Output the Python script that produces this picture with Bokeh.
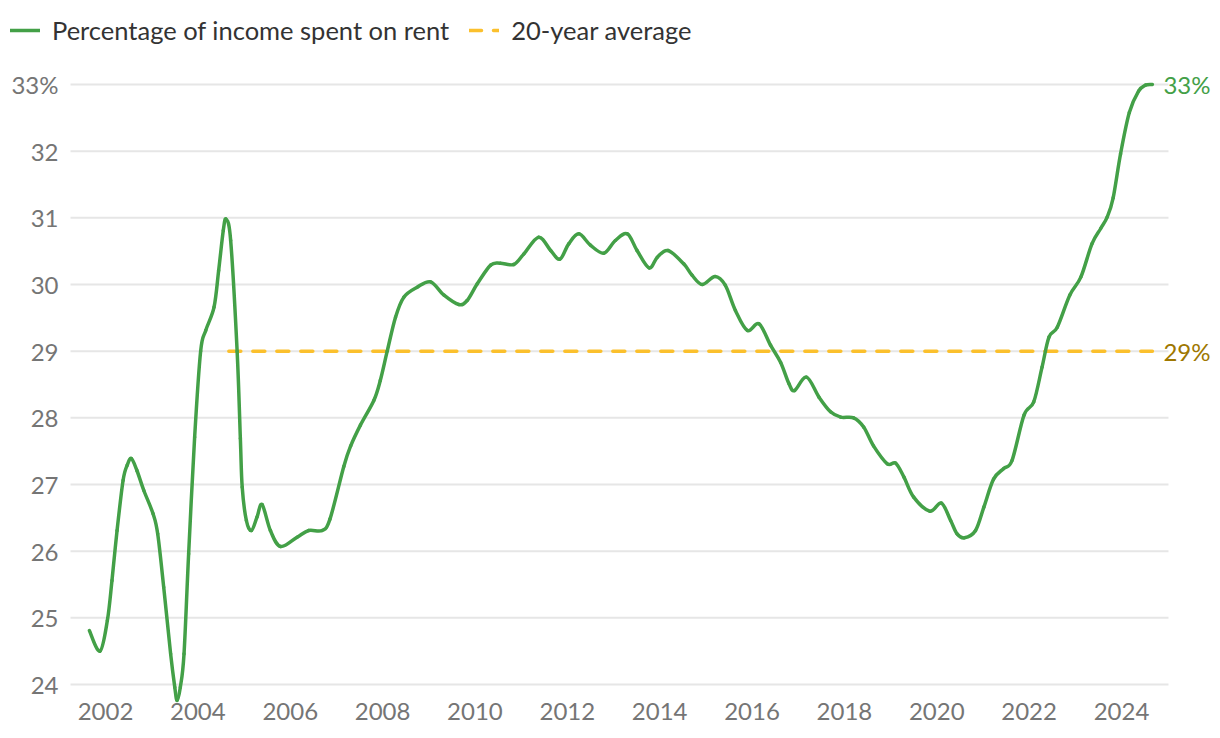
from bokeh.plotting import figure
from bokeh.models import Range1d, FixedTicker, Legend, LegendItem, Label, CustomJSTickFormatter
from bokeh.embed import file_html
from bokeh.resources import INLINE

# ---- data ----
years = [2001.65, 2001.88, 2002.04, 2002.14, 2002.25, 2002.38, 2002.47, 2002.56, 2002.68, 2002.83,
         2003.03, 2003.13, 2003.26, 2003.41, 2003.50, 2003.55, 2003.62, 2003.70, 2003.80, 2003.93,
         2004.06, 2004.17, 2004.35, 2004.45, 2004.55, 2004.61, 2004.71, 2004.85, 2004.92, 2004.96,
         2005.05, 2005.16, 2005.28, 2005.39, 2005.57, 2005.79, 2006.15, 2006.40, 2006.69, 2006.86,
         2007.16, 2007.31, 2007.52, 2007.81, 2007.95, 2008.10, 2008.28, 2008.46, 2008.75,
         2009.04, 2009.33, 2009.65, 2009.83, 2010.05, 2010.34, 2010.55, 2010.84, 2011.06, 2011.38,
         2011.64, 2011.84, 2012.03, 2012.25, 2012.50, 2012.79, 2013.04, 2013.30, 2013.51, 2013.77,
         2013.95, 2014.18, 2014.52, 2014.70, 2014.92, 2015.20, 2015.42, 2015.64, 2015.90, 2016.15,
         2016.40, 2016.62, 2016.80, 2016.92, 2017.18, 2017.45, 2017.70, 2017.92, 2018.20, 2018.42,
         2018.63, 2018.93, 2019.11, 2019.29, 2019.50, 2019.85, 2020.10, 2020.30, 2020.44, 2020.60,
         2020.84, 2021.02, 2021.23, 2021.45, 2021.63, 2021.89, 2022.10, 2022.28, 2022.43, 2022.61,
         2022.88, 2023.12, 2023.36, 2023.55, 2023.69, 2023.82, 2023.98, 2024.17, 2024.37, 2024.52,
         2024.67]
rent_share = [24.81, 24.50, 24.96, 25.56, 26.31, 27.06, 27.29, 27.39, 27.21, 26.91,
              26.56, 26.26, 25.46, 24.46, 23.96, 23.76, 23.96, 24.46, 25.96, 27.71,
              29.00, 29.31, 29.66, 30.21, 30.81, 30.98, 30.66, 29.00, 27.69, 26.96,
              26.46, 26.31, 26.51, 26.70, 26.31, 26.07, 26.21, 26.31, 26.31, 26.48,
              27.27, 27.58, 27.89, 28.26, 28.56, 29.00, 29.51, 29.81, 29.96,
              30.04, 29.84, 29.70, 29.76, 30.01, 30.29, 30.32, 30.30, 30.46, 30.71,
              30.51, 30.38, 30.61, 30.76, 30.59, 30.47, 30.66, 30.76, 30.51, 30.25,
              30.41, 30.51, 30.31, 30.14, 30.00, 30.12, 29.99, 29.61, 29.31, 29.41,
              29.09, 28.83, 28.51, 28.41, 28.61, 28.31, 28.09, 28.01, 28.00, 27.86,
              27.58, 27.31, 27.32, 27.11, 26.81, 26.60, 26.72, 26.46, 26.26, 26.20,
              26.31, 26.66, 27.08, 27.24, 27.36, 28.04, 28.24, 28.76, 29.21, 29.36,
              29.84, 30.11, 30.61, 30.84, 31.01, 31.30, 31.96, 32.58, 32.90, 32.99,
              33.00]
avg_years = [2004.67, 2024.67]
avg_values = [29.0, 29.0]
x_ticks = [2002, 2004, 2006, 2008, 2010, 2012, 2014, 2016, 2018, 2020, 2022, 2024]
y_ticks = [24, 25, 26, 27, 28, 29, 30, 31, 32, 33]
series_labels = ["Percentage of income spent on rent", "20-year average"]

GREEN = "#43A047"
YELLOW = "#FBC02D"
GOLD = "#9E7700"
FONT = "Lato"
FSIZE = "24px"

# plot ranges: the frame covers (almost) the whole canvas so that the legend and the
# end labels are drawn inside it; grid lines only span the chart area
X_LO, X_HI = 1999.726, 2025.971
GRID_LO, GRID_HI = 2001.242, 2025.018
Y_LO, Y_HI = 23.67, 34.26

p = figure(width=1220, height=738, output_backend="svg", toolbar_location=None,
           x_range=Range1d(X_LO, X_HI), y_range=Range1d(Y_LO, Y_HI),
           min_border_left=0, min_border_right=8, min_border_top=0, min_border_bottom=32)
p.outline_line_color = None
p.background_fill_color = "white"
p.border_fill_color = "white"

p.xaxis.ticker = FixedTicker(ticks=x_ticks)
p.yaxis.ticker = FixedTicker(ticks=y_ticks)
p.yaxis.formatter = CustomJSTickFormatter(
    code=f"return tick == {y_ticks[-1]} ? tick + '%' : tick.toString();")
for ax in (p.xaxis[0], p.yaxis[0]):
    ax.axis_line_color = None
    ax.major_tick_line_color = None
    ax.minor_tick_line_color = None
    ax.major_tick_out = 0
    ax.major_tick_in = 0
    ax.major_label_text_font = FONT
    ax.major_label_text_font_size = FSIZE
    ax.major_label_text_color = "#757575"
p.yaxis.major_label_standoff = -58
p.xaxis.major_label_standoff = -4

p.xgrid.grid_line_color = None
p.ygrid.grid_line_color = None
p.segment(x0=[GRID_LO] * len(y_ticks), y0=y_ticks, x1=[GRID_HI] * len(y_ticks), y1=y_ticks,
          line_color="#e6e6e6", line_width=2, level="underlay")

r_avg = p.line(avg_years, avg_values, line_color=YELLOW, line_width=3.5,
               line_dash="12 12", line_cap="round")

# smooth curve through the data points (Catmull-Rom as cubic Bezier segments)
n = len(years)
x0, y0, x1, y1, cx0, cy0, cx1, cy1 = [], [], [], [], [], [], [], []
for i in range(n - 1):
    xa, ya = years[max(i - 1, 0)], rent_share[max(i - 1, 0)]
    xb, yb = years[i], rent_share[i]
    xc, yc = years[i + 1], rent_share[i + 1]
    xd, yd = years[min(i + 2, n - 1)], rent_share[min(i + 2, n - 1)]
    x0.append(xb); y0.append(yb); x1.append(xc); y1.append(yc)
    cx0.append(xb + (xc - xa) / 6); cy0.append(yb + (yc - ya) / 6)
    cx1.append(xc - (xd - xb) / 6); cy1.append(yc - (yd - yb) / 6)
r_main = p.bezier(x0=x0, y0=y0, x1=x1, y1=y1, cx0=cx0, cy0=cy0, cx1=cx1, cy1=cy1,
                  line_color=GREEN, line_width=3.5, line_cap="round")

legend = Legend(items=[LegendItem(label=series_labels[0], renderers=[r_main]),
                       LegendItem(label=series_labels[1], renderers=[r_avg])],
                orientation="horizontal", location=(10, 661),
                label_text_font=FONT, label_text_font_size="25.5px", label_text_color="#333333",
                glyph_width=30, label_standoff=12, spacing=20, padding=0, margin=0,
                border_line_color=None, background_fill_alpha=0)
p.add_layout(legend, "center")

p.add_layout(Label(x=years[-1], y=rent_share[-1], text=f"{rent_share[-1]:.0f}%",
                   x_offset=11, text_baseline="middle", text_color=GREEN,
                   text_font=FONT, text_font_size=FSIZE))
p.add_layout(Label(x=avg_years[-1], y=avg_values[-1], text=f"{avg_values[-1]:.0f}%",
                   x_offset=11, text_baseline="middle", text_color=GOLD,
                   text_font=FONT, text_font_size=FSIZE))

open("out.html", "w").write(file_html(p, INLINE))
